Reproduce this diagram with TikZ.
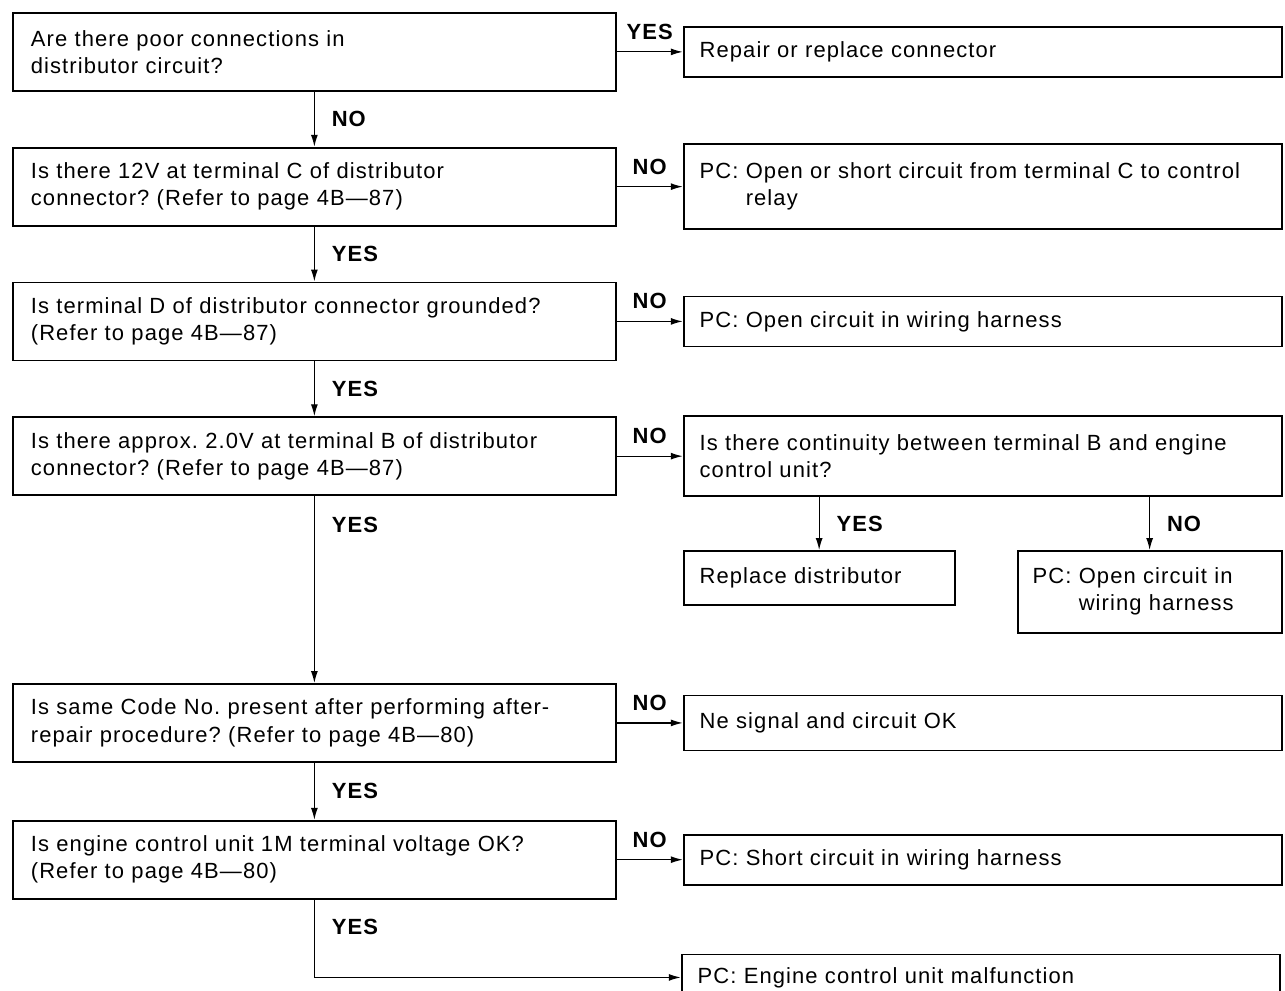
\documentclass[tikz,border=0pt]{standalone}
\usepackage{fontspec}
\setmainfont[LetterSpace=5.0]{Liberation Sans}
\usetikzlibrary{arrows.meta, positioning}

% "PC:" followed by a hanging block of lines
\newcommand{\pc}[1]{PC: \begin{tabular}[t]{@{}l@{}}#1\end{tabular}}

\begin{document}
\frenchspacing
\begin{tikzpicture}[
    node distance=1.1cm and 1.32cm,
    every node/.style = {font=\fontsize{12.5}{15.5}\selectfont},
    qbox/.style  = {rectangle, draw, line width=1pt, align=left,
                    text width=11.34cm, inner xsep=0.36cm,
                    minimum height=1.56cm},
    abox/.style  = {rectangle, draw, line width=1pt, align=left,
                    text width=11.32cm, inner xsep=0.32cm},
    lbl/.style   = {font=\bfseries\fontsize{12.5}{15}\selectfont, inner sep=1pt},
    arr/.style   = {-{Latex[length=2.4mm, width=1.4mm]}, line width=0.7pt}
]
\useasboundingbox (0,0) rectangle (25.7,-19.8);

% ========= question column =========
\node[qbox, anchor=north west] (q1) at (0.24,-0.24)
    {Are there poor connections in\\distributor circuit?};
\node[qbox, below=of q1] (q2)
    {Is there 12V at terminal C of distributor\\connector? (Refer to page 4B---87)};
\node[qbox, below=of q2] (q3)
    {Is terminal D of distributor connector grounded?\\(Refer to page 4B---87)};
\node[qbox, below=of q3] (q4)
    {Is there approx. 2.0V at terminal B of distributor\\connector? (Refer to page 4B---87)};
\node[qbox, below=3.74cm of q4] (q5)
    {Is same Code No. present after performing after-\\repair procedure? (Refer to page 4B---80)};
\node[qbox, below=1.14cm of q5] (q6)
    {Is engine control unit 1M terminal voltage OK?\\(Refer to page 4B---80)};

% ========= answer column =========
\node[abox, minimum height=1cm,   right=of q1] (a1) {Repair or replace connector};
\node[abox, minimum height=1.7cm, right=of q2] (a2)
    {\pc{Open or short circuit from terminal C to control\\relay}};
\node[abox, minimum height=1cm,   right=of q3] (a3) {PC: Open circuit in wiring harness};
\node[abox, minimum height=1.6cm, right=of q4] (a4)
    {Is there continuity between terminal B and engine\\control unit?};
\node[abox, minimum height=1.1cm, right=of q5] (a5) {Ne signal and circuit OK};
\node[abox, minimum height=1cm,   right=of q6] (a6) {PC: Short circuit in wiring harness};
\node[abox, minimum height=0.92cm,
      below right=1.08cm and 1.28cm of q6.south east] (a7)
    {PC: Engine control unit malfunction};

% continuity check branches
\node[abox, text width=4.78cm, minimum height=1.08cm,
      below=1.06cm of a4.south west, anchor=north west] (b1) {Replace distributor};
\node[abox, text width=4.68cm, inner xsep=0.3cm, minimum height=1.64cm,
      below=1.06cm of a4.south east, anchor=north east] (b2)
    {\pc{Open circuit in\\wiring harness}};

% ========= connectors =========
\draw[arr] (q1) -- (a1) node[lbl, midway, above=0.2cm] {YES};
\draw[arr] (q1) -- (q2) node[lbl, midway, right=0.3cm] {NO};
\draw[arr] (q2) -- (a2) node[lbl, midway, above=0.2cm] {NO};
\draw[arr] (q2) -- (q3) node[lbl, midway, right=0.3cm] {YES};
\draw[arr] (q3) -- (a3) node[lbl, midway, above=0.2cm] {NO};
\draw[arr] (q3) -- (q4) node[lbl, midway, right=0.3cm] {YES};
\draw[arr] (q4) -- (a4) node[lbl, midway, above=0.2cm] {NO};
\draw[arr] (b1.north |- a4.south) -- (b1.north) node[lbl, midway, right=0.3cm] {YES};
\draw[arr] (b2.north |- a4.south) -- (b2.north) node[lbl, midway, right=0.3cm] {NO};
\draw[arr] (q4) -- (q5) node[lbl, pos=0.155, right=0.3cm] {YES};
\draw[arr] (q5) -- (a5) node[lbl, midway, above=0.2cm] {NO};
\draw[arr] (q5) -- (q6) node[lbl, midway, right=0.3cm] {YES};
\draw[arr] (q6) -- (a6) node[lbl, midway, above=0.2cm] {NO};
\draw[arr] (q6) |- (a7) node[lbl, pos=0.175, right=0.3cm] {YES};
\end{tikzpicture}
\end{document}
